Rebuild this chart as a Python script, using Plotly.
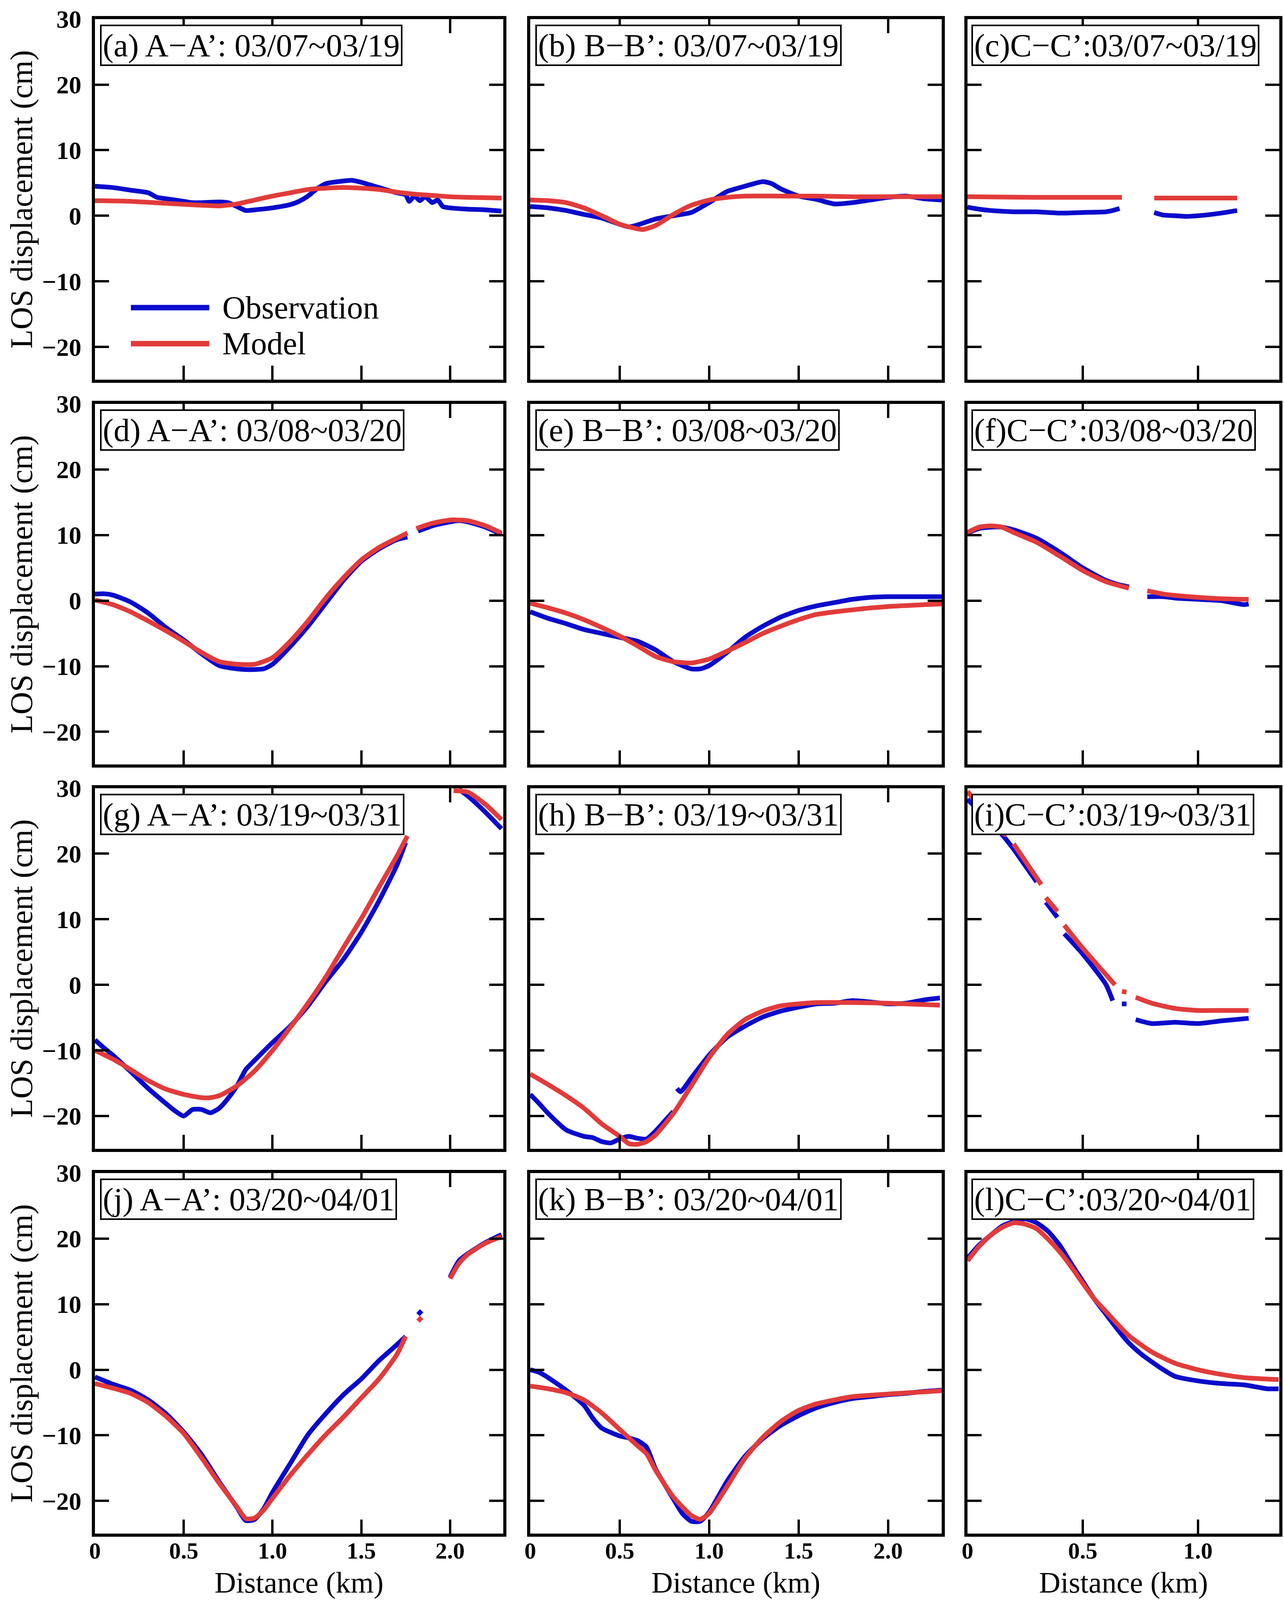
import plotly.graph_objects as go

# ---------------- data (km, cm) ----------------
labels = ["(a) A\u2212A\u2019: 03/07~03/19", "(b) B\u2212B\u2019: 03/07~03/19", "(c)C\u2212C\u2019:03/07~03/19",
          "(d) A\u2212A\u2019: 03/08~03/20", "(e) B\u2212B\u2019: 03/08~03/20", "(f)C\u2212C\u2019:03/08~03/20",
          "(g) A\u2212A\u2019: 03/19~03/31", "(h) B\u2212B\u2019: 03/19~03/31", "(i)C\u2212C\u2019:03/19~03/31",
          "(j) A\u2212A\u2019: 03/20~04/01", "(k) B\u2212B\u2019: 03/20~04/01", "(l)C\u2212C\u2019:03/20~04/01"]

y_ticks = [-20, -10, 0, 10, 20, 30]
x_ticks_ab = [0, 0.5, 1.0, 1.5, 2.0]
x_ticklabels_ab = ["0", "0.5", "1.0", "1.5", "2.0"]
x_ticks_c = [0, 0.5, 1.0]
x_ticklabels_c = ["0", "0.5", "1.0"]
y_title = "LOS displacement (cm)"
x_title = "Distance (km)"
legend_names = ["Observation", "Model"]

# (a)
a_x_obs = [0, 0.1, 0.2, 0.3, 0.35, 0.4, 0.5, 0.55, 0.6, 0.7, 0.75, 0.8, 0.85, 0.9, 1.0, 1.1, 1.15, 1.2, 1.25, 1.3, 1.4, 1.45, 1.5, 1.6, 1.7, 1.75, 1.77, 1.8, 1.83, 1.86, 1.9, 1.93, 1.96, 2.0, 2.1, 2.2, 2.29]
a_y_obs = [4.5, 4.3, 3.9, 3.5, 2.8, 2.6, 2.2, 2.0, 2.0, 2.1, 2.0, 1.4, 0.8, 0.9, 1.2, 1.7, 2.2, 3.0, 4.1, 4.9, 5.3, 5.4, 5.1, 4.3, 3.5, 3.2, 2.2, 3.0, 2.3, 2.9, 2.0, 2.4, 1.4, 1.2, 1.0, 0.9, 0.7]
a_x_mod = [0, 0.2, 0.4, 0.6, 0.7, 0.8, 0.9, 1.0, 1.1, 1.2, 1.3, 1.4, 1.5, 1.6, 1.7, 1.8, 1.9, 2.0, 2.1, 2.29]
a_y_mod = [2.3, 2.2, 1.9, 1.6, 1.5, 1.8, 2.4, 3.0, 3.5, 4.0, 4.2, 4.3, 4.2, 4.0, 3.6, 3.3, 3.1, 2.9, 2.8, 2.7]

# (b)
b_x_obs = [0, 0.1, 0.2, 0.3, 0.4, 0.5, 0.55, 0.6, 0.7, 0.8, 0.9, 1.0, 1.1, 1.2, 1.3, 1.35, 1.4, 1.5, 1.6, 1.7, 1.8, 1.9, 2.0, 2.1, 2.2, 2.3]
b_y_obs = [1.4, 1.2, 0.8, 0.2, -0.35, -1.3, -1.7, -1.4, -0.5, 0.0, 0.5, 2.0, 3.7, 4.5, 5.2, 4.9, 4.1, 3.0, 2.5, 1.8, 2.0, 2.4, 2.8, 3.0, 2.6, 2.4]
b_x_mod = [0, 0.1, 0.2, 0.3, 0.4, 0.5, 0.6, 0.63, 0.7, 0.8, 0.9, 1.0, 1.1, 1.2, 1.4, 1.6, 1.8, 2.0, 2.3]
b_y_mod = [2.4, 2.3, 2.0, 1.2, 0.0, -1.3, -2.0, -2.1, -1.5, 0.2, 1.6, 2.4, 2.8, 3.0, 3.0, 3.0, 2.9, 2.9, 2.9]

# (c)
c_x_obs = [0, 0.05, 0.1, 0.2, 0.3, 0.4, 0.5, 0.6, 0.63, 0.66, None, 0.81, 0.85, 0.9, 0.95, 1.0, 1.1, 1.17]
c_y_obs = [1.3, 1.0, 0.8, 0.6, 0.6, 0.4, 0.5, 0.6, 0.8, 1.1, None, 0.5, 0.1, 0.0, -0.1, 0.0, 0.4, 0.8]
c_x_mod = [0, 0.3, 0.67, None, 0.81, 1.0, 1.17]
c_y_mod = [2.9, 2.8, 2.8, None, 2.7, 2.7, 2.7]

# (d)
d_x_obs = [0, 0.05, 0.1, 0.2, 0.3, 0.4, 0.5, 0.6, 0.7, 0.8, 0.85, 0.9, 0.95, 1.0, 1.1, 1.2, 1.3, 1.4, 1.5, 1.6, 1.7, 1.76, None, 1.82, 1.9, 2.0, 2.05, 2.1, 2.2, 2.29]
d_y_obs = [1.0, 1.05, 0.85, -0.2, -1.9, -4.1, -6.0, -8.1, -9.9, -10.4, -10.5, -10.5, -10.4, -9.7, -7.0, -3.9, -0.4, 3.1, 6.0, 7.9, 9.3, 9.7, None, 10.6, 11.4, 12.0, 12.2, 12.0, 11.2, 10.1]
d_x_mod = [0, 0.1, 0.2, 0.3, 0.4, 0.5, 0.6, 0.7, 0.8, 0.9, 1.0, 1.1, 1.2, 1.3, 1.4, 1.5, 1.6, 1.7, 1.76, None, 1.81, 1.9, 2.0, 2.05, 2.1, 2.2, 2.29]
d_y_mod = [0.1, -0.6, -1.7, -3.1, -4.6, -6.2, -7.9, -9.3, -9.7, -9.7, -8.7, -6.2, -3.1, 0.4, 3.5, 6.2, 8.1, 9.5, 10.3, None, 11.0, 11.8, 12.3, 12.3, 12.2, 11.4, 10.3]

# (e)
e_x_obs = [0, 0.1, 0.2, 0.3, 0.4, 0.5, 0.6, 0.7, 0.8, 0.9, 0.95, 1.0, 1.1, 1.2, 1.3, 1.4, 1.5, 1.6, 1.7, 1.8, 1.9, 2.0, 2.3]
e_y_obs = [-1.7, -2.7, -3.5, -4.4, -5.0, -5.6, -6.2, -7.5, -9.3, -10.4, -10.4, -9.9, -7.9, -5.6, -3.9, -2.5, -1.5, -0.8, -0.3, 0.2, 0.5, 0.6, 0.6]
e_x_mod = [0, 0.1, 0.2, 0.3, 0.4, 0.5, 0.6, 0.7, 0.8, 0.9, 1.0, 1.1, 1.2, 1.3, 1.4, 1.5, 1.6, 1.8, 2.0, 2.3]
e_y_mod = [-0.4, -1.1, -1.9, -2.9, -4.1, -5.4, -6.9, -8.5, -9.3, -9.5, -8.9, -7.7, -6.4, -5.0, -3.9, -2.9, -2.1, -1.4, -0.9, -0.5]

# (f)
f_x_obs = [0, 0.05, 0.1, 0.15, 0.2, 0.3, 0.4, 0.5, 0.6, 0.65, 0.7, None, 0.78, 0.85, 0.9, 1.0, 1.1, 1.2, 1.22]
f_y_obs = [10.3, 11.0, 11.2, 11.2, 10.8, 9.5, 7.4, 5.0, 3.1, 2.5, 2.1, None, 0.6, 0.6, 0.4, 0.2, 0.0, -0.6, -0.5]
f_x_mod = [0, 0.05, 0.1, 0.15, 0.2, 0.3, 0.4, 0.5, 0.6, 0.7, None, 0.78, 0.85, 0.9, 1.0, 1.1, 1.22]
f_y_mod = [10.4, 11.2, 11.4, 11.2, 10.4, 8.9, 6.8, 4.6, 2.9, 1.9, None, 1.5, 1.0, 0.8, 0.5, 0.3, 0.2]

# (g)
g_x_obs = [0, 0.05, 0.1, 0.2, 0.3, 0.4, 0.45, 0.5, 0.55, 0.6, 0.65, 0.7, 0.75, 0.8, 0.85, 0.9, 1.0, 1.1, 1.2, 1.3, 1.4, 1.5, 1.6, 1.7, 1.75, None, 2.05, 2.1, 2.2, 2.29]
g_y_obs = [-8.4, -9.6, -10.7, -13.2, -15.8, -18.1, -19.2, -20.0, -19.0, -19.0, -19.5, -18.8, -17.3, -15.4, -12.9, -11.5, -8.8, -6.3, -3.2, 0.5, 3.9, 8.0, 12.8, 18.2, 21.7, None, 29.8, 28.8, 26.3, 23.8]
g_x_mod = [0, 0.1, 0.2, 0.3, 0.4, 0.5, 0.6, 0.65, 0.7, 0.8, 0.9, 1.0, 1.1, 1.2, 1.3, 1.4, 1.5, 1.6, 1.7, 1.76, None, 2.02, 2.1, 2.2, 2.29]
g_y_mod = [-10.0, -11.3, -12.9, -14.6, -15.9, -16.7, -17.2, -17.2, -16.9, -15.4, -13.1, -10.0, -6.5, -2.8, 1.2, 5.7, 10.1, 14.9, 19.6, 22.7, None, 29.6, 29.4, 27.5, 25.2]

# (h)
h_x_obs = [0, 0.05, 0.1, 0.2, 0.3, 0.35, 0.4, 0.45, 0.5, 0.55, 0.6, 0.65, 0.7, 0.75, 0.8, None, 0.82, 0.84, 0.9, 1.0, 1.1, 1.2, 1.3, 1.4, 1.5, 1.6, 1.7, 1.8, 1.9, 2.0, 2.1, 2.2, 2.29]
h_y_obs = [-16.7, -18.1, -19.6, -22.1, -23.1, -23.3, -23.9, -24.1, -23.5, -23.1, -23.4, -23.5, -22.3, -20.8, -19.3, None, -15.8, -16.3, -14.2, -10.7, -8.0, -6.3, -4.9, -4.0, -3.4, -2.9, -2.8, -2.4, -2.6, -2.9, -2.8, -2.3, -2.0]
h_x_mod = [0, 0.1, 0.2, 0.3, 0.4, 0.5, 0.55, 0.6, 0.65, 0.7, 0.8, 0.9, 1.0, 1.1, 1.2, 1.3, 1.4, 1.5, 1.6, 1.8, 2.0, 2.29]
h_y_mod = [-13.6, -15.2, -16.9, -18.8, -21.2, -23.1, -24.2, -24.3, -23.9, -22.9, -19.6, -15.4, -11.1, -7.6, -5.3, -4.0, -3.2, -2.9, -2.7, -2.7, -2.8, -3.1]

# (i)
i_x_obs = [0, 0.05, 0.1, 0.15, 0.2, 0.25, 0.3, None, 0.34, 0.39, None, 0.42, 0.5, 0.6, 0.63, None, 0.67, 0.69, None, 0.73, 0.8, 0.9, 1.0, 1.1, 1.22]
i_y_obs = [28.3, 26.5, 24.7, 22.9, 20.7, 18.2, 15.7, None, 12.6, 10.3, None, 7.8, 4.7, 0.1, -2.4, None, -2.9, -2.9, None, -5.3, -5.9, -5.7, -5.9, -5.5, -5.1]
i_x_mod = [0, 0.05, 0.1, 0.15, 0.17, None, 0.2, 0.26, 0.32, None, 0.34, 0.39, None, 0.42, 0.5, 0.6, 0.64, None, 0.67, 0.69, None, 0.73, 0.8, 0.9, 1.0, 1.1, 1.22]
i_y_mod = [29.5, 27.3, 25.1, 23.2, 22.8, None, 21.5, 18.4, 15.3, None, 13.3, 11.2, None, 9.1, 5.6, 1.6, 0.0, None, -1.0, -1.1, None, -1.9, -2.8, -3.6, -3.9, -3.9, -3.9]

# (j)
j_x_obs = [0, 0.1, 0.2, 0.3, 0.4, 0.5, 0.6, 0.7, 0.8, 0.85, 0.9, 0.95, 1.0, 1.1, 1.2, 1.3, 1.4, 1.5, 1.6, 1.7, 1.75, None, 1.82, 1.84, None, 2.0, 2.05, 2.1, 2.2, 2.29]
j_y_obs = [-1.1, -2.2, -3.1, -4.6, -6.7, -9.5, -12.9, -17.1, -21.0, -23.0, -22.8, -21.2, -18.7, -14.3, -9.9, -6.7, -3.8, -1.4, 1.4, 3.8, 5.1, None, 8.4, 9.0, None, 14.1, 16.6, 17.7, 19.4, 20.6]
j_x_mod = [0, 0.1, 0.2, 0.3, 0.4, 0.5, 0.6, 0.7, 0.8, 0.85, 0.9, 0.95, 1.0, 1.1, 1.2, 1.3, 1.4, 1.5, 1.6, 1.7, 1.75, None, 1.82, 1.84, None, 2.0, 2.05, 2.1, 2.2, 2.29]
j_y_mod = [-2.1, -2.8, -3.6, -5.0, -7.1, -9.7, -13.4, -17.3, -20.9, -22.7, -22.6, -21.4, -19.6, -16.1, -12.9, -9.9, -7.2, -4.3, -1.4, 2.3, 5.1, None, 7.4, 8.0, None, 13.9, 16.2, 17.6, 19.3, 20.3]

# (k)
k_x_obs = [0, 0.05, 0.1, 0.2, 0.3, 0.35, 0.4, 0.5, 0.55, 0.6, 0.65, 0.7, 0.8, 0.85, 0.9, 0.95, 1.0, 1.1, 1.2, 1.3, 1.4, 1.5, 1.6, 1.7, 1.8, 1.9, 2.0, 2.1, 2.2, 2.3]
k_y_obs = [0.0, -0.4, -1.2, -3.1, -5.4, -7.4, -8.9, -10.1, -10.4, -10.8, -11.8, -15.1, -19.7, -21.9, -23.1, -23.1, -21.7, -17.0, -13.2, -10.5, -8.5, -7.0, -5.8, -5.0, -4.4, -4.1, -3.8, -3.6, -3.3, -3.1]
k_x_mod = [0, 0.1, 0.2, 0.3, 0.4, 0.5, 0.6, 0.65, 0.7, 0.8, 0.9, 0.95, 1.0, 1.1, 1.2, 1.3, 1.4, 1.5, 1.6, 1.7, 1.8, 2.0, 2.3]
k_y_mod = [-2.5, -2.9, -3.5, -4.6, -6.6, -9.1, -11.6, -12.8, -15.3, -19.4, -22.2, -22.8, -21.9, -17.8, -13.5, -10.3, -7.9, -6.2, -5.2, -4.6, -4.1, -3.7, -3.2]

# (l)
l_x_obs = [0, 0.05, 0.1, 0.15, 0.2, 0.25, 0.3, 0.35, 0.4, 0.45, 0.5, 0.55, 0.6, 0.65, 0.7, 0.75, 0.8, 0.85, 0.9, 1.0, 1.1, 1.2, 1.3, 1.35]
l_y_obs = [17.0, 19.0, 20.5, 21.9, 22.6, 23.0, 22.4, 21.1, 19.0, 16.2, 13.5, 10.8, 8.5, 6.2, 4.1, 2.5, 1.2, 0.0, -1.0, -1.7, -2.1, -2.3, -2.9, -2.9]
l_x_mod = [0, 0.05, 0.1, 0.15, 0.2, 0.25, 0.3, 0.35, 0.4, 0.45, 0.5, 0.55, 0.6, 0.65, 0.7, 0.8, 0.9, 1.0, 1.1, 1.2, 1.35]
l_y_mod = [16.6, 18.8, 20.5, 21.7, 22.4, 22.2, 21.5, 19.9, 18.0, 15.7, 13.2, 10.8, 8.9, 7.0, 5.2, 2.7, 1.0, 0.0, -0.7, -1.2, -1.5]

obs_x = [a_x_obs, b_x_obs, c_x_obs, d_x_obs, e_x_obs, f_x_obs, g_x_obs, h_x_obs, i_x_obs, j_x_obs, k_x_obs, l_x_obs]
obs_y = [a_y_obs, b_y_obs, c_y_obs, d_y_obs, e_y_obs, f_y_obs, g_y_obs, h_y_obs, i_y_obs, j_y_obs, k_y_obs, l_y_obs]
mod_x = [a_x_mod, b_x_mod, c_x_mod, d_x_mod, e_x_mod, f_x_mod, g_x_mod, h_x_mod, i_x_mod, j_x_mod, k_x_mod, l_x_mod]
mod_y = [a_y_mod, b_y_mod, c_y_mod, d_y_mod, e_y_mod, f_y_mod, g_y_mod, h_y_mod, i_y_mod, j_y_mod, k_y_mod, l_y_mod]

# ---------------- layout geometry (fractions of the 3286 x 4635 page) ----------------
W, H = 3286, 4635
col_px = [(243, 1288), (1357, 2410), (2476, 3274)]
row_px = [(55, 1100), (1170, 2215), (2283, 3328), (3398, 4443)]
x_ranges = [[0, 2.3], [0, 2.3], [0, 1.353]]
y_range = [-25, 30]

BLUE = "#0a0acc"
RED = "#e23b3b"
FONT = "Liberation Serif"

fig = go.Figure()
layout = dict(autosize=True, margin=dict(l=0, r=0, t=0, b=0, autoexpand=False),
              paper_bgcolor="white", plot_bgcolor="white", showlegend=False)
annotations = []
shapes = []

for idx in range(12):
    r, c = divmod(idx, 3)
    n = idx + 1
    sfx = "" if n == 1 else str(n)
    xa, ya = "x" + sfx, "y" + sfx
    fig.add_trace(go.Scatter(x=obs_x[idx], y=obs_y[idx], mode="lines", name=legend_names[0],
                             line=dict(color=BLUE, width=12, shape="spline", smoothing=0.6),
                             connectgaps=False, xaxis=xa, yaxis=ya))
    fig.add_trace(go.Scatter(x=mod_x[idx], y=mod_y[idx], mode="lines", name=legend_names[1],
                             line=dict(color=RED, width=12, shape="spline", smoothing=0.6),
                             connectgaps=False, xaxis=xa, yaxis=ya))
    x0, x1 = col_px[c]
    y0, y1 = row_px[r]
    common = dict(showline=True, linewidth=8, linecolor="black", mirror="ticks",
                  ticks="inside", ticklen=36, tickwidth=6, tickcolor="black",
                  showgrid=False, zeroline=False, automargin=False)
    xt = x_ticks_c if c == 2 else x_ticks_ab
    xtl = x_ticklabels_c if c == 2 else x_ticklabels_ab
    xaxis = dict(common, domain=[x0 / W, x1 / W], range=x_ranges[c], anchor=ya,
                 tickmode="array", tickvals=xt, ticktext=xtl,
                 tickfont=dict(family=FONT, size=60, color="black", weight="bold"),
                 showticklabels=(r == 3), ticklabelstandoff=-16)
    yaxis = dict(common, domain=[1 - y1 / H, 1 - y0 / H], range=y_range, anchor=xa,
                 tickmode="array", tickvals=y_ticks,
                 tickfont=dict(family=FONT, size=64, color="black", weight="bold"),
                 showticklabels=(c == 0), ticklabelstandoff=14)
    if c == 0:
        yaxis["title"] = dict(text=y_title, font=dict(family=FONT, size=80, color="black"), standoff=2)
    layout["xaxis" + sfx] = xaxis
    layout["yaxis" + sfx] = yaxis
    annotations.append(dict(text=labels[idx], xref=xa + " domain", yref=ya + " domain",
                            x=13 / 1045, y=1 - 16 / 1045, xanchor="left", yanchor="top",
                            showarrow=False, font=dict(family=FONT, size=83, color="black"),
                            bgcolor="white", bordercolor="black", borderwidth=4, borderpad=3))
    if r == 3:
        annotations.append(dict(text=x_title, xref="paper", yref="paper",
                                x=(x0 + x1) / 2 / W, y=0, xanchor="center", yanchor="bottom",
                                showarrow=False, font=dict(family=FONT, size=76, color="black")))

# legend drawn inside panel (a)
legend_colors = [BLUE, RED]
legend_rows = [0.200, 0.100]
for name, colr, yy in zip(legend_names, legend_colors, legend_rows):
    shapes.append(dict(type="line", xref="x domain", yref="y domain", x0=0.088, x1=0.28, y0=yy, y1=yy,
                       line=dict(color=colr, width=14)))
    annotations.append(dict(text=name, xref="x domain", yref="y domain", x=0.31, y=yy,
                            xanchor="left", yanchor="middle", showarrow=False,
                            font=dict(family=FONT, size=82, color="black")))

layout["annotations"] = annotations
layout["shapes"] = shapes
fig.update_layout(**layout)

post = ("document.documentElement.style.margin='0';document.body.style.margin='0';"
        "document.body.style.overflow='hidden';"
        "var gd=document.getElementById('{plot_id}');"
        "gd.style.width='100vw';gd.style.height='100vh';"
        "Plotly.Plots.resize(gd);")
fig.write_html("out.html", default_width="100vw", default_height="100vh",
               config={"responsive": True, "displayModeBar": False}, post_script=post)
